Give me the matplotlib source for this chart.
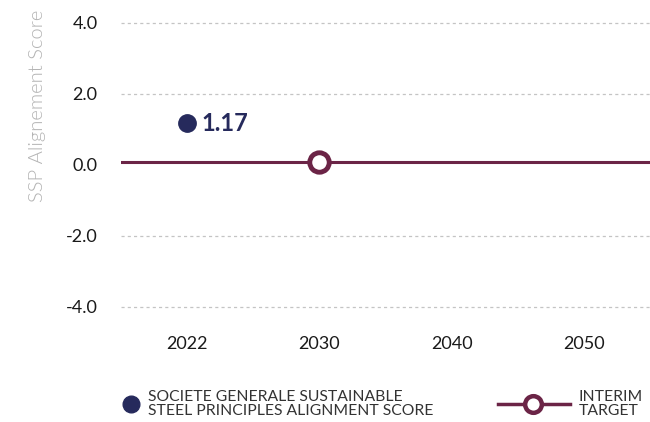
import matplotlib
matplotlib.use("Agg")
import matplotlib.pyplot as plt
from matplotlib.lines import Line2D

# ---- data ----
categories = ["2022", "2030", "2040", "2050"]
score_year = "2022"
score_value = 1.17
target_year = "2030"
target_value = 0.08
y_ticks = [-4.0, -2.0, 0.0, 2.0, 4.0]

NAVY = "#262a5c"
MAROON = "#6b2446"
GRID = "#c4c4c4"
TEXT = "#1a1a1a"

plt.rcParams["font.family"] = ["Lato", "DejaVu Sans"]

W, H = 650, 422
fig = plt.figure(figsize=(W / 100, H / 100), dpi=100)
ax = fig.add_axes([121 / W, 1 - 306.7 / H, 1 - 121 / W, (306.7 - 22.7) / H])

xpos = {c: i for i, c in enumerate(categories)}

ax.set_xlim(-0.5, len(categories) - 0.5)
ax.set_ylim(min(y_ticks), max(y_ticks))
ax.set_yticks(y_ticks)
ax.set_yticklabels([f"{v:.1f}" for v in y_ticks])
ax.set_xticks(range(len(categories)))
ax.set_xticklabels(categories)
ax.tick_params(axis="both", length=0, labelsize=13, colors=TEXT)
ax.tick_params(axis="y", pad=17)
ax.tick_params(axis="x", pad=21)
for s in ax.spines.values():
    s.set_visible(False)

for v in y_ticks:
    if v != 0:
        ax.axhline(v, color=GRID, lw=0.9, ls=(0, (2.5, 2.5)), zorder=1,
                   clip_on=False)

# target line
ax.axhline(target_value, color=MAROON, lw=2.2, zorder=2)
ax.plot([xpos[target_year]], [target_value], marker="o", ms=14, mfc="white",
        mec=MAROON, mew=3.5, zorder=4, clip_on=False)

# score dot
ax.plot([xpos[score_year]], [score_value], marker="o", ms=12.5, color=NAVY,
        zorder=4, ls="none")
ax.annotate(f"{score_value:.2f}", (xpos[score_year], score_value),
            xytext=(10, 0), textcoords="offset points", ha="left", va="center",
            fontsize=17, fontweight="bold", color=NAVY)

# y label
fig.text(38 / W, 1 - 106 / H, "SSP Alignement Score", rotation=90,
         ha="center", va="center", fontsize=14.6, color="#b4b4b4",
         fontweight=300)

# legend
ly = 1 - 404 / H
fig.add_artist(Line2D([131 / W], [ly], marker="o", ms=12, color=NAVY,
                      transform=fig.transFigure))
fig.text(148 / W, ly, "SOCIETE GENERALE SUSTAINABLE\nSTEEL PRINCIPLES ALIGNMENT SCORE",
         ha="left", va="center", fontsize=11.3, color="#333333", linespacing=1.08)
fig.add_artist(Line2D([498 / W, 570 / W], [ly, ly], color=MAROON, lw=2.5,
                      transform=fig.transFigure))
fig.add_artist(Line2D([533 / W], [ly], marker="o", ms=12, mfc="white",
                      mec=MAROON, mew=3.2, transform=fig.transFigure))
fig.text(579 / W, ly, "INTERIM\nTARGET", ha="left", va="center",
         fontsize=11.3, color="#333333", linespacing=1.08)

fig.savefig("out.png", dpi=100)
